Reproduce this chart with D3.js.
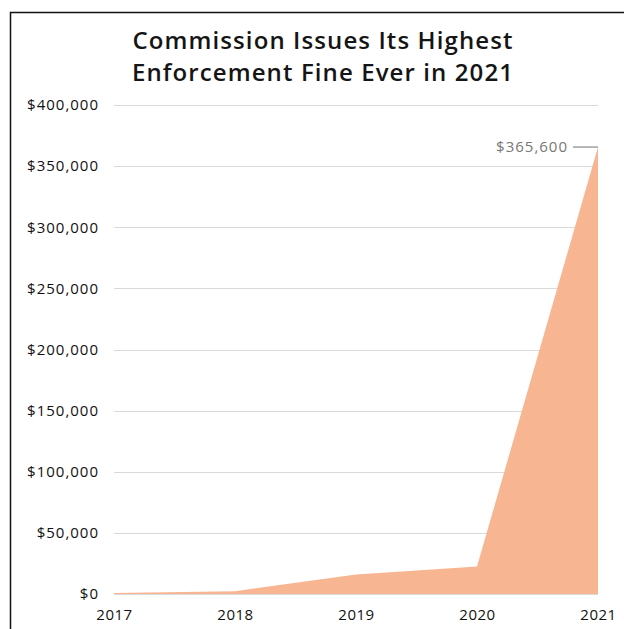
<!DOCTYPE html>
<html>
<head>
<meta charset="utf-8">
<script src="https://cdn.jsdelivr.net/npm/d3@7"></script>
<style>
  body { margin: 0; background: #fff; }
  text { font-family: "Open Sans", sans-serif; }
</style>
</head>
<body>
<div id="chart"></div>
<script>
// data
var years = ["2017", "2018", "2019", "2020", "2021"];
var fines = [800, 2300, 16000, 22500, 365600];
var yTicks = [0, 50000, 100000, 150000, 200000, 250000, 300000, 350000, 400000];

var W = 624, H = 629;
var margin = {top: 105, right: 26, bottom: 35, left: 114},
    width = W - margin.left - margin.right,
    height = H - margin.top - margin.bottom;

var svg = d3.select("#chart")
    .append("svg")
    .attr("width", W)
    .attr("height", H);

// frame (top and left edges)
svg.append("path")
    .attr("d", "M10.5," + H + "V12.5H" + W)
    .attr("fill", "none")
    .attr("stroke", "#111")
    .attr("stroke-width", 1.5);

// title
var title = svg.append("text")
    .attr("x", 323)
    .attr("text-anchor", "middle")
    .style("font-size", "24px")
    .style("font-weight", 600)
    .style("letter-spacing", "1.1px")
    .attr("fill", "#151515");
title.append("tspan").attr("x", 323).attr("y", 49).text("Commission Issues Its Highest");
title.append("tspan").attr("x", 323).attr("y", 81).text("Enforcement Fine Ever in 2021");

var g = svg.append("g")
    .attr("transform", "translate(" + margin.left + "," + margin.top + ")");

var x = d3.scalePoint()
    .domain(years)
    .range([0, width]);

var y = d3.scaleLinear()
    .domain([0, 400000])
    .range([height, 0]);

// gridlines
g.append("g")
    .attr("class", "grid")
    .selectAll("line")
    .data(yTicks)
    .enter()
    .append("line")
    .attr("x1", 0)
    .attr("x2", width)
    .attr("y1", function(d) { return Math.round(y(d)) + 0.5; })
    .attr("y2", function(d) { return Math.round(y(d)) + 0.5; })
    .attr("stroke", "#d9d9d9")
    .attr("stroke-width", 1);

// area
var area = d3.area()
    .x(function(d, i) { return x(years[i]); })
    .y0(height)
    .y1(function(d) { return y(d); });

g.append("path")
    .datum(fines)
    .attr("d", area)
    .attr("fill", "#f8b592");

// y axis
var yAxisCall = d3.axisLeft(y)
    .tickValues(yTicks)
    .tickSize(0)
    .tickPadding(15)
    .tickFormat(function(d) { return "$" + d3.format(",")(d); });

g.append("g")
    .attr("class", "y axis")
    .call(yAxisCall)
    .call(function(s) { s.select(".domain").remove(); })
    .selectAll("text")
    .style("font-size", "15px")
    .style("letter-spacing", "1px")
    .attr("fill", "#111");

// x axis
var xAxisCall = d3.axisBottom(x)
    .tickSize(0)
    .tickPadding(15);

g.append("g")
    .attr("class", "x axis")
    .attr("transform", "translate(0," + height + ")")
    .call(xAxisCall)
    .call(function(s) { s.select(".domain").remove(); })
    .selectAll("text")
    .style("font-size", "15px")
    .style("letter-spacing", "0.5px")
    .attr("fill", "#111");

// annotation for the last value
var last = fines.length - 1;
var lx = x(years[last]), ly = y(fines[last]);
g.append("line")
    .attr("x1", lx - 25)
    .attr("x2", lx)
    .attr("y1", ly)
    .attr("y2", ly)
    .attr("stroke", "#888")
    .attr("stroke-width", 1.2);

g.append("text")
    .attr("x", lx - 30)
    .attr("y", ly)
    .attr("dy", "0.35em")
    .attr("text-anchor", "end")
    .style("font-size", "15px")
    .style("letter-spacing", "1px")
    .attr("fill", "#777")
    .text("$" + d3.format(",")(fines[last]));
</script>
</body>
</html>
